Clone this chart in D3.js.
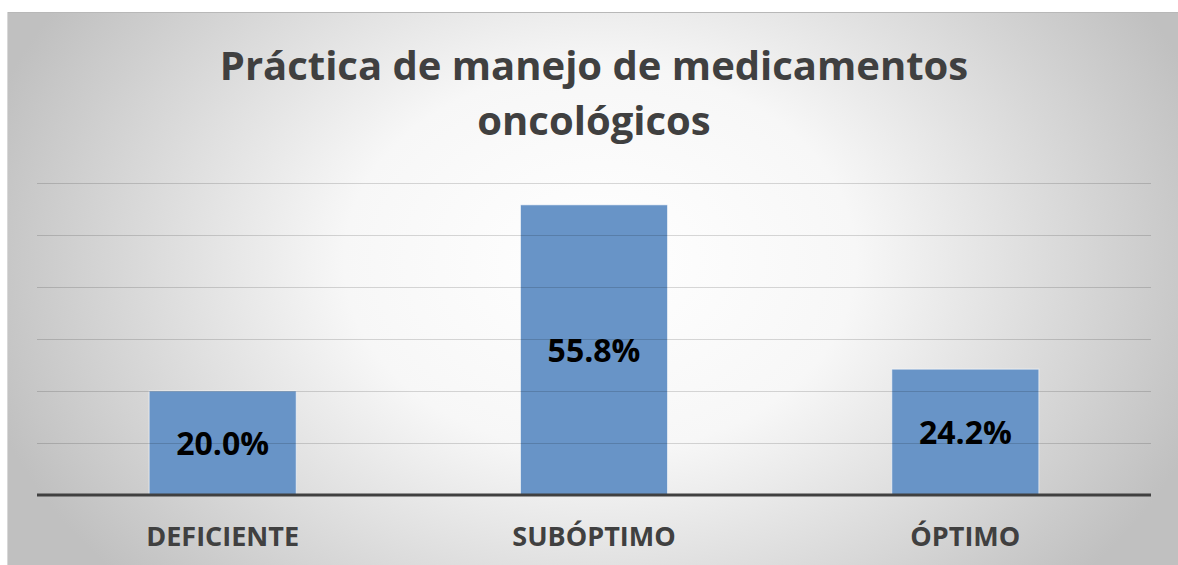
<!DOCTYPE html>
<html>
<head>
<meta charset="utf-8">
<script src="https://cdn.jsdelivr.net/npm/d3@7"></script>
<style>
  body { margin: 0; background: #fff; }
  svg { display: block; font-family: "Open Sans", "Liberation Sans", sans-serif; }
</style>
</head>
<body>
<div id="chart"></div>
<script>
var categories = ["DEFICIENTE", "SUBÓPTIMO", "ÓPTIMO"];
var values = [20.0, 55.8, 24.2];
var yTicks = [0, 10, 20, 30, 40, 50, 60];
var titleLines = ["Práctica de manejo de medicamentos", "oncológicos"];

var width = 1178, height = 565;
var svg = d3.select("#chart").append("svg")
    .attr("width", width)
    .attr("height", height);

var defs = svg.append("defs");
var grad = defs.append("radialGradient")
    .attr("id", "bg")
    .attr("gradientUnits", "userSpaceOnUse")
    .attr("cx", 600).attr("cy", 260).attr("r", 640)
    .attr("gradientTransform", "translate(600,260) scale(1,0.75) translate(-600,-260)");
grad.append("stop").attr("offset", "0%").attr("stop-color", "#ffffff");
grad.append("stop").attr("offset", "40%").attr("stop-color", "#f7f7f7");
grad.append("stop").attr("offset", "100%").attr("stop-color", "#c0c0c0");

// chart area
svg.append("rect")
    .attr("x", 7).attr("y", 12)
    .attr("width", width - 7).attr("height", height - 12)
    .attr("fill", "url(#bg)");
svg.append("line")
    .attr("x1", 7).attr("x2", width)
    .attr("y1", 12.5).attr("y2", 12.5)
    .attr("stroke", "#b8b8b8").attr("stroke-width", 1);
svg.append("line")
    .attr("x1", 7.5).attr("x2", 7.5)
    .attr("y1", 12).attr("y2", height)
    .attr("stroke", "#d8d8d8").attr("stroke-width", 1);

var plotLeft = 37, plotRight = 1151, plotTop = 183, plotBottom = 495;

var x = d3.scaleBand()
    .domain(categories)
    .range([plotLeft, plotRight])
    .padding(0);

var y = d3.scaleLinear()
    .domain([0, 60])
    .range([plotBottom, plotTop]);

var barW = x.bandwidth() * 0.396;

// bars
svg.append("g").selectAll("rect")
    .data(values)
    .enter()
    .append("rect")
    .attr("x", function (d, i) { return x(categories[i]) + (x.bandwidth() - barW) / 2; })
    .attr("y", function (d) { return y(d); })
    .attr("width", barW)
    .attr("height", function (d) { return plotBottom - y(d); })
    .attr("fill", "#6894c7")
    .attr("stroke", "rgba(255,255,255,0.6)")
    .attr("stroke-width", 1);

// gridlines (drawn over bars, faint)
svg.append("g").selectAll("line")
    .data(yTicks.filter(function (t) { return t > 0; }))
    .enter()
    .append("line")
    .attr("x1", plotLeft).attr("x2", plotRight)
    .attr("y1", function (d) { return Math.round(y(d)) + 0.5; })
    .attr("y2", function (d) { return Math.round(y(d)) + 0.5; })
    .attr("stroke", "rgba(0,0,0,0.15)")
    .attr("stroke-width", 1);

// baseline
svg.append("line")
    .attr("x1", plotLeft).attr("x2", plotRight)
    .attr("y1", plotBottom).attr("y2", plotBottom)
    .attr("stroke", "#404040")
    .attr("stroke-width", 3);

// data labels
svg.append("g").selectAll("text")
    .data(values)
    .enter()
    .append("text")
    .attr("x", function (d, i) { return x(categories[i]) + x.bandwidth() / 2; })
    .attr("y", function (d) { return (y(d) + plotBottom) / 2 + 12; })
    .attr("text-anchor", "middle")
    .attr("font-size", 32)
    .attr("font-weight", "bold")
    .attr("fill", "#000")
    .text(function (d) { return d.toFixed(1) + "%"; });

// category labels
svg.append("g").selectAll("text")
    .data(categories)
    .enter()
    .append("text")
    .attr("x", function (d) { return x(d) + x.bandwidth() / 2; })
    .attr("y", 546)
    .attr("text-anchor", "middle")
    .attr("font-size", 27)
    .attr("font-weight", "bold")
    .attr("fill", "#404040")
    .text(function (d) { return d; });

// title
svg.append("g").selectAll("text")
    .data(titleLines)
    .enter()
    .append("text")
    .attr("x", 594)
    .attr("y", function (d, i) { return 80 + i * 55; })
    .attr("text-anchor", "middle")
    .attr("font-size", 40)
    .attr("font-weight", "bold")
    .attr("fill", "#404040")
    .text(function (d) { return d; });
</script>
</body>
</html>
